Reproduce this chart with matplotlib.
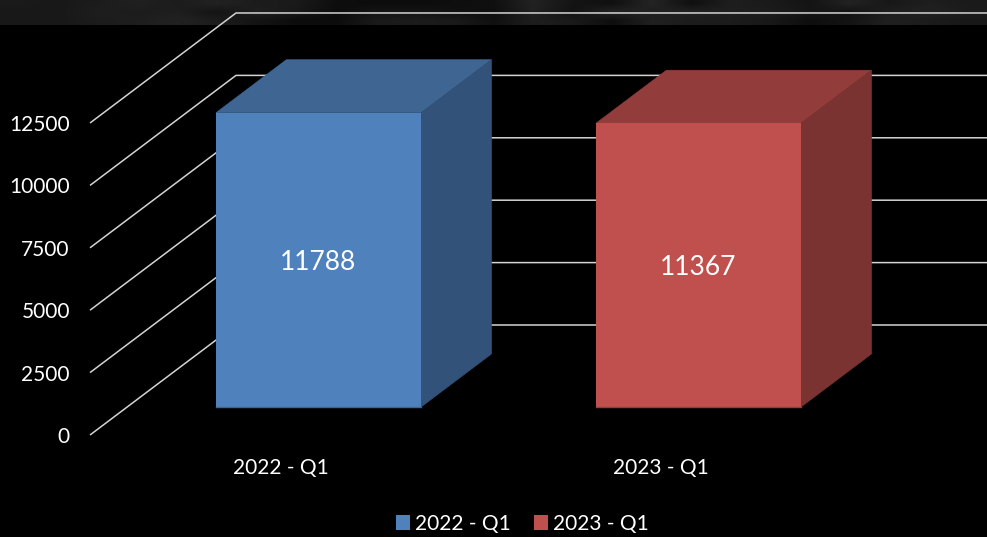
import numpy as np
import matplotlib
matplotlib.use("Agg")
import matplotlib.pyplot as plt
from matplotlib.patches import Polygon, Patch

plt.rcParams["font.family"] = ["Lato", "DejaVu Sans"]

categories = ["2022 - Q1", "2023 - Q1"]
values = [11788, 11367]
y_ticks = [0, 2500, 5000, 7500, 10000, 12500]

front_colors = ["#4f81bd", "#c0504d"]
top_colors = ["#3f6693", "#923d3b"]
side_colors = ["#325279", "#7a3331"]
edge_colors = ["#3d6592", "#943c39"]

# grey levels of the photo strip along the top edge
band_top = [0x1a, 0x18, 0x1c, 0x20, 0x1c, 0x22, 0x1c, 0x1a, 0x0e, 0x0c, 0x0c, 0x0e, 0x10,
            0x22, 0x14, 0x10, 0x24, 0x10, 0x1e, 0x1a, 0x14, 0x22, 0x18, 0x1e, 0x1a]
band_mid = [0x18, 0x18, 0x1e, 0x1c, 0x1e, 0x14, 0x1e, 0x18, 0x0c, 0x14, 0x14, 0x10, 0x0e,
            0x20, 0x12, 0x22, 0x20, 0x20, 0x1e, 0x1c, 0x16, 0x12, 0x1e, 0x22, 0x1c]
band_low = [0x18, 0x18, 0x1c, 0x1e, 0x22, 0x1c, 0x14, 0x0c, 0x0c, 0x1a, 0x1c, 0x1a, 0x10,
            0x1e, 0x1a, 0x0e, 0x20, 0x1c, 0x1c, 0x18, 0x0e, 0x14, 0x20, 0x1c, 0x18]

W, H = 987, 537
fig = plt.figure(figsize=((W + 0.01) / 100, (H + 0.01) / 100), dpi=100, facecolor="black")

# the strip sits behind the chart
band_ax = fig.add_axes([0, 1 - 25 / H, 1, 25 / H], zorder=0)
band_ax.imshow([band_top, band_mid, band_low], cmap="gray", vmin=0, vmax=255,
               aspect="auto", interpolation="bilinear")
band_ax.axis("off")

ax = fig.add_axes([90 / W, 1 - 435 / H, (W - 90) / W, 435 / H], zorder=1)
ax.patch.set_alpha(0)

px_per_value = 62.4 / 2500
px_per_cat = 380
ax.set_xlim(-228.5 / px_per_cat, 668.5 / px_per_cat)
ax.set_ylim(0, 435 / px_per_value)

# full depth of the 3d box, front of floor to back wall
depth_dx = 146 / px_per_cat
depth_dy = 110 / px_per_value
bar_depth_start = 0.2545
bar_depth = 0.482
bar_width = 205 / px_per_cat
wall_x = ax.get_xlim()[0]
right_x = ax.get_xlim()[1]


def project(x, v, depth):
    return (x + depth * depth_dx, v + depth * depth_dy)


line_style = dict(color="#d4d4d4", lw=1.1, solid_capstyle="butt", zorder=1, clip_on=False)
for v in y_ticks:
    p0 = project(wall_x, v, 0)
    p1 = project(wall_x, v, 1)
    ax.plot([p0[0], p1[0], right_x], [p0[1], p1[1], p1[1]], **line_style)

for i, (cat, val) in enumerate(zip(categories, values)):
    # bar centre on the front face, measured at the floor front
    x0 = i - bar_width / 2 - bar_depth_start * depth_dx
    x1 = x0 + bar_width
    d0 = bar_depth_start
    d1 = bar_depth_start + bar_depth

    front = [project(x0, 0, d0), project(x1, 0, d0), project(x1, val, d0), project(x0, val, d0)]
    top = [project(x0, val, d0), project(x1, val, d0), project(x1, val, d1), project(x0, val, d1)]
    side = [project(x1, 0, d0), project(x1, 0, d1), project(x1, val, d1), project(x1, val, d0)]

    ax.add_patch(Polygon(top, facecolor=top_colors[i], edgecolor=top_colors[i], lw=0.5, zorder=2))
    ax.add_patch(Polygon(side, facecolor=side_colors[i], edgecolor=side_colors[i], lw=0.5, zorder=2))
    ax.add_patch(Polygon(front, facecolor=front_colors[i], edgecolor="none", zorder=3))
    ax.plot([front[0][0], front[1][0]], [front[0][1], front[1][1]], color=edge_colors[i], lw=1, zorder=4)

    cx, cy = project(i - bar_depth_start * depth_dx, val / 2, d0)
    ax.text(cx, cy, str(val), color="white", fontsize=19, ha="center", va="center_baseline", zorder=5)

ax.set_yticks(y_ticks)
ax.set_yticklabels([str(t) for t in y_ticks])
ax.set_xticks([i - bar_depth_start * depth_dx for i in range(len(categories))])
ax.set_xticklabels(categories)
ax.tick_params(axis="y", length=0, pad=14.5, labelsize=15, labelcolor="white")
ax.tick_params(axis="x", length=0, pad=16.5, labelsize=15, labelcolor="white")
for s in ax.spines.values():
    s.set_visible(False)

handles = [Patch(facecolor=c, edgecolor="none", label=l) for c, l in zip(front_colors, categories)]
fig.legend(handles=handles, loc="lower center", bbox_to_anchor=(0.5295, 0.006), ncol=2, frameon=False,
           fontsize=15, labelcolor="white", handlelength=0.67, handleheight=0.67,
           handletextpad=0.26, columnspacing=1.1, borderpad=0, borderaxespad=0)

fig.savefig("out.png", dpi=100, facecolor="black")
